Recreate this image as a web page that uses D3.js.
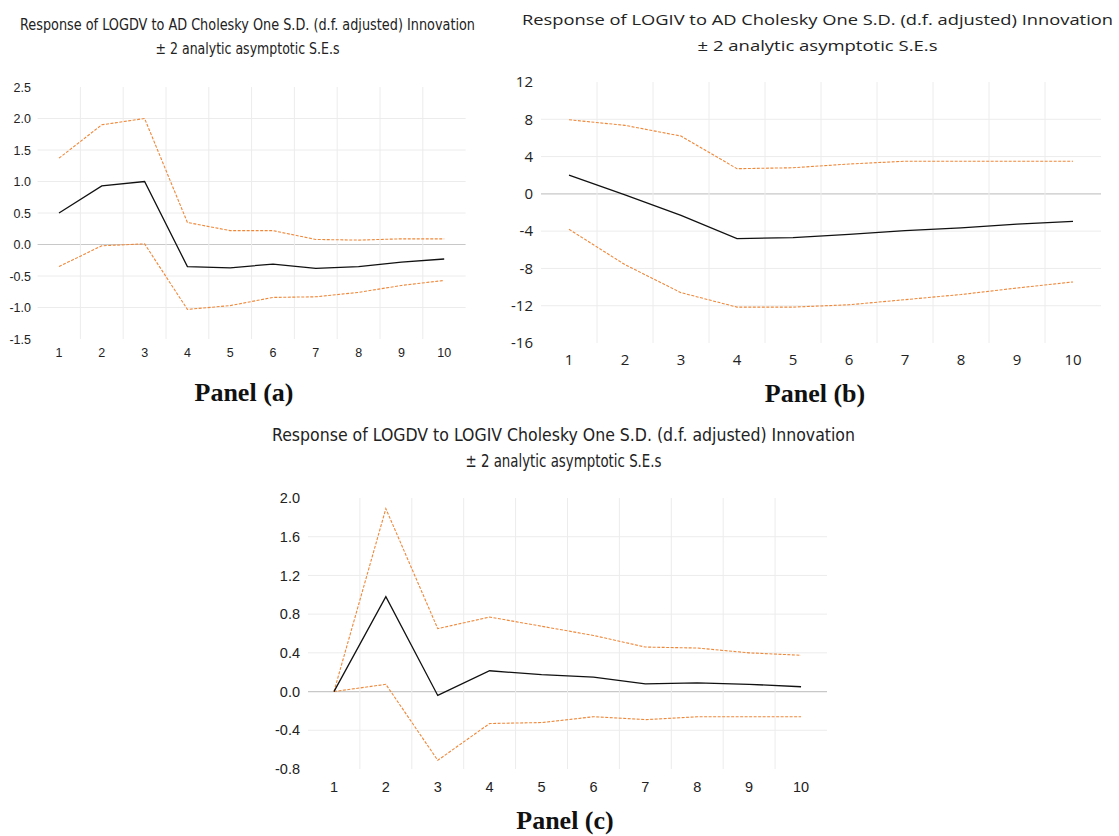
<!DOCTYPE html>
<html>
<head>
<meta charset="utf-8">
<script src="https://cdn.jsdelivr.net/npm/d3@7"></script>
<style>
  body { margin: 0; background: #fff; }
  svg { display: block; }
</style>
</head>
<body>
<svg id="chart" width="1119" height="836"></svg>
<script>
// periods (x categories)
var periods = [1, 2, 3, 4, 5, 6, 7, 8, 9, 10];

// Panel (a): LOGDV to AD
var respA  = [0.50, 0.93, 1.00, -0.35, -0.37, -0.31, -0.38, -0.35, -0.28, -0.23];
var upperA = [1.37, 1.90, 2.00, 0.35, 0.22, 0.22, 0.08, 0.07, 0.09, 0.09];
var lowerA = [-0.35, -0.02, 0.01, -1.03, -0.97, -0.84, -0.83, -0.76, -0.65, -0.57];
var ticksA = [-1.5, -1.0, -0.5, 0.0, 0.5, 1.0, 1.5, 2.0, 2.5];

// Panel (b): LOGIV to AD
var respB  = [2.0, -0.1, -2.3, -4.8, -4.7, -4.35, -3.95, -3.65, -3.25, -2.95];
var upperB = [7.95, 7.35, 6.2, 2.7, 2.8, 3.2, 3.5, 3.5, 3.5, 3.5];
var lowerB = [-3.8, -7.6, -10.6, -12.15, -12.15, -11.9, -11.35, -10.8, -10.1, -9.45];
var ticksB = [-16, -12, -8, -4, 0, 4, 8, 12];

// Panel (c): LOGDV to LOGIV
var respC  = [0.0, 0.98, -0.04, 0.215, 0.175, 0.15, 0.08, 0.09, 0.075, 0.05];
var upperC = [0.0, 1.89, 0.65, 0.77, 0.675, 0.58, 0.46, 0.45, 0.40, 0.375];
var lowerC = [0.0, 0.075, -0.71, -0.33, -0.32, -0.26, -0.29, -0.26, -0.26, -0.26];
var ticksC = [-0.8, -0.4, 0.0, 0.4, 0.8, 1.2, 1.6, 2.0];

var subtitle = "\u00b1 2 analytic asymptotic S.E.s";

var svg = d3.select("#chart");

// plain hyphen for negatives, like the original
function hyphen(f) {
  return function (d) { return f(d).replace("\u2212", "-"); };
}

function drawPanel(cfg) {
  var g = svg.append("g");

  var x = d3.scaleBand().domain(periods).range([cfg.left, cfg.right]);
  var y = d3.scaleLinear().domain(cfg.domain).range([cfg.bottom, cfg.top]);

  // horizontal grid (not at the extremes)
  g.selectAll(".hgrid")
    .data(cfg.ticks.filter(function (d) { return d !== cfg.domain[0] && d !== cfg.domain[1]; }))
    .enter().append("line")
    .attr("x1", cfg.left).attr("x2", cfg.right)
    .attr("y1", function (d) { return y(d); })
    .attr("y2", function (d) { return y(d); })
    .attr("stroke", function (d) { return d === 0 ? "#c8c8c8" : "#ececec"; })
    .attr("stroke-width", function (d) { return d === 0 ? 1.2 : 1; });

  // vertical grid between categories
  g.selectAll(".vgrid")
    .data(periods.slice(1))
    .enter().append("line")
    .attr("x1", function (d) { return x(d); })
    .attr("x2", function (d) { return x(d); })
    .attr("y1", cfg.top).attr("y2", cfg.bottom)
    .attr("stroke", "#ececec");

  // y axis labels
  var yAxis = d3.axisLeft(y).tickValues(cfg.ticks).tickFormat(hyphen(cfg.fmt)).tickSize(0).tickPadding(0);
  var ya = g.append("g").attr("transform", "translate(" + cfg.labelRight + ",0)").call(yAxis);
  ya.select(".domain").remove();
  ya.selectAll("text")
    .attr("font-family", cfg.tickFont).attr("font-size", cfg.tickSize).attr("fill", "#222");

  // x axis labels
  var xAxis = d3.axisBottom(x).tickSize(0).tickPadding(0);
  var xa = g.append("g").attr("transform", "translate(0," + cfg.xLabelY + ")").call(xAxis);
  xa.select(".domain").remove();
  xa.selectAll("text")
    .attr("font-family", cfg.tickFont).attr("font-size", cfg.tickSize).attr("fill", "#222")
    .attr("dy", "0");

  var line = d3.line()
    .x(function (d, i) { return x(periods[i]) + x.bandwidth() / 2; })
    .y(function (d) { return y(d); });

  [cfg.upper, cfg.lower].forEach(function (s) {
    g.append("path").datum(s)
      .attr("d", line)
      .attr("fill", "none")
      .attr("stroke", "#f0883a")
      .attr("stroke-width", 1.1)
      .attr("stroke-dasharray", "3,1.5");
  });
  g.append("path").datum(cfg.resp)
    .attr("d", line)
    .attr("fill", "none")
    .attr("stroke", "#111")
    .attr("stroke-width", 1.3);

  // titles
  g.append("text")
    .attr("x", cfg.titleX - cfg.titleW / 2).attr("y", cfg.titleY)
    .attr("textLength", cfg.titleW).attr("lengthAdjust", "spacingAndGlyphs")
    .attr("font-family", cfg.titleFont).attr("font-size", cfg.titleSize).attr("fill", "#222")
    .text(cfg.title);
  g.append("text")
    .attr("x", cfg.titleX - cfg.subW / 2).attr("y", cfg.titleY + cfg.lineGap)
    .attr("textLength", cfg.subW).attr("lengthAdjust", "spacingAndGlyphs")
    .attr("font-family", cfg.titleFont).attr("font-size", cfg.titleSize).attr("fill", "#222")
    .text(subtitle);

  // panel label
  g.append("text")
    .attr("x", cfg.panelX).attr("y", cfg.panelY)
    .attr("text-anchor", "middle")
    .attr("font-family", "'Liberation Serif', 'DejaVu Serif', serif")
    .attr("font-weight", "bold").attr("font-size", 26).attr("fill", "#111")
    .text(cfg.panel);
}

var narrow = "'Liberation Sans Narrow', 'DejaVu Sans Condensed', 'Liberation Sans', sans-serif";

drawPanel({
  left: 37.6, right: 465.6, top: 87, bottom: 339, domain: [-1.5, 2.5],
  ticks: ticksA, fmt: d3.format(".1f"),
  resp: respA, upper: upperA, lower: lowerA,
  labelRight: 31, xLabelY: 357, tickFont: "'Liberation Sans', sans-serif", tickSize: 12.5,
  title: "Response of LOGDV to AD Cholesky One S.D. (d.f. adjusted) Innovation",
  titleX: 247.5, titleY: 30, titleW: 455, subW: 184, lineGap: 24, titleFont: narrow, titleSize: 15,
  panel: "Panel (a)", panelX: 244, panelY: 401
});

drawPanel({
  left: 541, right: 1101, top: 82, bottom: 343, domain: [-16, 12],
  ticks: ticksB, fmt: d3.format("d"),
  resp: respB, upper: upperB, lower: lowerB,
  labelRight: 533, xLabelY: 365, tickFont: "'Open Sans', sans-serif", tickSize: 15,
  title: "Response of LOGIV to AD Cholesky One S.D. (d.f. adjusted) Innovation",
  titleX: 817.5, titleY: 25, titleW: 591, subW: 240, lineGap: 26, titleFont: "'Open Sans', sans-serif", titleSize: 15,
  panel: "Panel (b)", panelX: 815, panelY: 402
});

drawPanel({
  left: 308, right: 827, top: 498, bottom: 769, domain: [-0.8, 2.0],
  ticks: ticksC, fmt: d3.format(".1f"),
  resp: respC, upper: upperC, lower: lowerC,
  labelRight: 300, xLabelY: 792, tickFont: "'Liberation Sans', sans-serif", tickSize: 14.5,
  title: "Response of LOGDV to LOGIV Cholesky One S.D. (d.f. adjusted) Innovation",
  titleX: 563.5, titleY: 441, titleW: 583, subW: 196, lineGap: 26, titleFont: narrow, titleSize: 17,
  panel: "Panel (c)", panelX: 565, panelY: 829
});
</script>
</body>
</html>
